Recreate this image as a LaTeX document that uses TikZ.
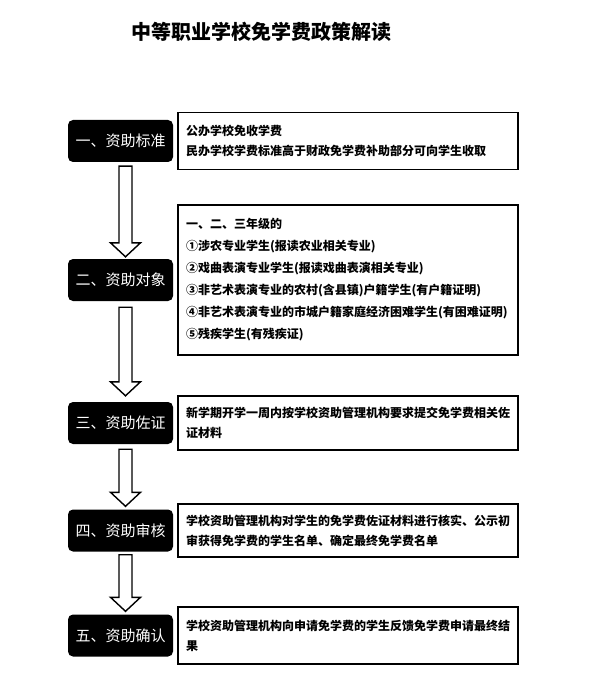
\documentclass[tikz,border=0pt]{standalone}
\usepackage{fontspec}
\setmainfont{Noto Sans CJK SC}
\usetikzlibrary{positioning, calc}

\begin{document}
\begin{tikzpicture}[
    x=1pt, y=-1pt,
    label/.style={rectangle, rounded corners=5pt, fill=black, text=white, minimum width=105pt, minimum height=42pt, inner sep=0pt, font=\fontsize{15}{18}\selectfont},
    content/.style={rectangle, draw=black, line width=1.6pt, text width=324pt, inner xsep=8pt, inner ysep=4pt, align=left, font=\bfseries\fontsize{12}{20}\selectfont},
    blockarrow/.style={draw=black, line width=1.4pt, fill=white, to path={
        let \p1=(\tikztostart), \p2=(\tikztotarget) in
        (\x1-6.5pt,\y1) -- (\x1-6.5pt,\y2+14pt) -- (\x1-15pt,\y2+14pt) -- (\x2,\y2)
        -- (\x1+15pt,\y2+14pt) -- (\x1+6.5pt,\y2+14pt) -- (\x1+6.5pt,\y1) -- cycle}}
]
    \useasboundingbox (0,0) rectangle (591,687);

    % 标题
    \node[font=\bfseries\fontsize{20}{24}\selectfont] (title) at (261,32) {中等职业学校免学费政策解读};

    % 节点
    \node[label] (std) at (120.5,141) {一、资助标准};
    \node[content, minimum height=57pt, right=4pt of std] (stdtxt) {公办学校免收学费\\民办学校学费标准高于财政免学费补助部分可向学生收取};

    \node[label] (obj) at (120.5,280) {二、资助对象};
    \node[content, minimum height=150pt, right=4pt of obj, font=\bfseries\fontsize{12}{22}\selectfont] (objtxt) {一、二、三年级的\\①涉农专业学生(报读农业相关专业)\\②戏曲表演专业学生(报读戏曲表演相关专业)\\③非艺术表演专业的农村(含县镇)户籍学生(有户籍证明)\\④非艺术表演专业的市城户籍家庭经济困难学生(有困难证明)\\⑤残疾学生(有残疾证)};

    \node[label] (prf) at (120.5,423) {三、资助佐证};
    \node[content, minimum height=54pt, right=4pt of prf] (prftxt) {新学期开学一周内按学校资助管理机构要求提交免学费相关佐\\证材料};

    \node[label] (chk) at (120.5,530.5) {四、资助审核};
    \node[content, minimum height=53pt, right=4pt of chk] (chktxt) {学校资助管理机构对学生的免学费佐证材料进行核实、公示初\\审获得免学费的学生名单、确定最终免学费名单};

    \node[label] (cfm) at (120.5,635.5) {五、资助确认};
    \node[content, minimum height=57pt, right=4pt of cfm] (cfmtxt) {学校资助管理机构向申请免学费的学生反馈免学费申请最终结\\果};

    % 箭头
    \draw[blockarrow] ([xshift=5pt,yshift=-4pt]std.south) to ([xshift=5pt,yshift=2pt]obj.north);
    \draw[blockarrow] ([xshift=5pt,yshift=-6pt]obj.south) to ([xshift=5pt,yshift=6pt]prf.north);
    \draw[blockarrow] ([xshift=5pt,yshift=-5pt]prf.south) to ([xshift=5pt,yshift=3pt]chk.north);
    \draw[blockarrow] ([xshift=5pt,yshift=-3pt]chk.south) to ([xshift=5pt,yshift=3pt]cfm.north);

\end{tikzpicture}
\end{document}
